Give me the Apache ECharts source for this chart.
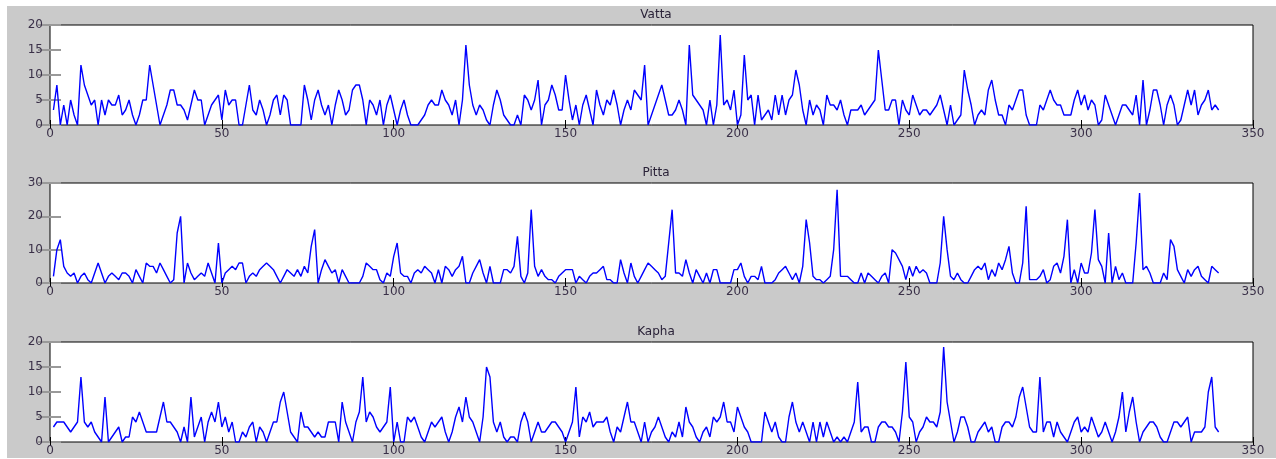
<!DOCTYPE html>
<html>
<head>
<meta charset="utf-8">
<script src="https://cdn.jsdelivr.net/npm/echarts@6/dist/echarts.min.js"></script>
<style>
  html, body { margin: 0; padding: 0; background: #fff; }
  #chart { width: 1276px; height: 459px; }
</style>
</head>
<body>
<div id="chart"></div>
<script>
// panel titles
var titles = ['Vatta', 'Pitta', 'Kapha'];

// y ranges
var yMax = [20, 30, 20];
var yStep = [5, 10, 5];

// samples 1..340
var vatta = [
	3, 8, 0, 4, 0, 5, 2, 0, 12, 8, 6, 4, 5, 0, 5, 2, 5, 4, 4, 6,
	2, 3, 5, 2, 0, 2, 5, 5, 12, 8, 4, 0, 2, 4, 7, 7, 4, 4, 3, 1,
	4, 7, 5, 5, 0, 2, 4, 5, 6, 1, 7, 4, 5, 5, 0, 0, 4, 8, 3, 2,
	5, 3, 0, 2, 5, 6, 2, 6, 5, 0, 0, 0, 0, 8, 5, 1, 5, 7, 4, 2,
	4, 0, 4, 7, 5, 2, 3, 7, 8, 8, 5, 0, 5, 4, 2, 5, 0, 4, 6, 3,
	0, 3, 5, 2, 0, 0, 0, 1, 2, 4, 5, 4, 4, 7, 5, 4, 2, 5, 0, 5,
	16, 8, 4, 2, 4, 3, 1, 0, 4, 7, 5, 2, 1, 0, 0, 2, 0, 6, 5, 3,
	5, 9, 0, 4, 5, 8, 6, 3, 3, 10, 5, 1, 4, 0, 4, 6, 3, 0, 7, 4,
	2, 5, 4, 7, 4, 0, 3, 5, 3, 7, 6, 5, 12, 0, 2, 4, 6, 8, 5, 2,
	2, 3, 5, 3, 0, 16, 6, 5, 4, 3, 0, 5, 0, 4, 18, 4, 5, 3, 7, 0,
	2, 14, 5, 6, 0, 6, 1, 2, 3, 1, 6, 2, 6, 2, 5, 6, 11, 8, 3, 0,
	5, 2, 4, 3, 0, 6, 4, 4, 3, 5, 2, 0, 3, 3, 3, 4, 2, 3, 4, 5,
	15, 9, 3, 3, 5, 5, 0, 5, 3, 2, 6, 4, 2, 3, 3, 2, 3, 4, 6, 3,
	0, 4, 0, 1, 2, 11, 7, 4, 0, 2, 3, 2, 7, 9, 5, 2, 2, 0, 4, 3,
	5, 7, 7, 2, 0, 0, 0, 4, 3, 5, 7, 5, 4, 4, 2, 2, 2, 5, 7, 4,
	6, 3, 5, 4, 0, 1, 6, 4, 2, 0, 2, 4, 4, 3, 2, 6, 0, 9, 0, 3,
	7, 7, 4, 0, 4, 6, 4, 0, 1, 4, 7, 4, 7, 2, 4, 5, 7, 3, 4, 3
];

var pitta = [
	2, 10, 13, 5, 3, 2, 3, 0, 2, 3, 1, 0, 3, 6, 3, 0, 2, 3, 2, 1,
	3, 3, 2, 0, 4, 2, 0, 6, 5, 5, 3, 6, 4, 2, 0, 1, 15, 20, 0, 6,
	3, 1, 2, 3, 2, 6, 3, 0, 12, 0, 3, 4, 5, 4, 6, 6, 0, 2, 3, 2,
	4, 5, 6, 5, 4, 2, 0, 2, 4, 3, 2, 4, 2, 5, 3, 11, 16, 0, 4, 7,
	5, 3, 4, 0, 4, 2, 0, 0, 0, 0, 2, 6, 5, 4, 4, 1, 0, 3, 2, 8,
	12, 3, 2, 2, 0, 3, 4, 3, 5, 4, 3, 0, 4, 0, 5, 4, 2, 4, 5, 8,
	0, 0, 3, 5, 7, 3, 0, 5, 0, 0, 0, 4, 4, 3, 5, 14, 2, 0, 3, 22,
	5, 2, 4, 2, 1, 1, 0, 2, 3, 4, 4, 4, 0, 2, 1, 0, 2, 3, 3, 4,
	5, 1, 1, 0, 0, 7, 3, 0, 6, 2, 0, 2, 4, 6, 5, 4, 3, 1, 2, 12,
	22, 3, 3, 2, 7, 3, 0, 4, 2, 0, 3, 0, 4, 4, 0, 0, 0, 0, 4, 4,
	6, 2, 0, 2, 2, 1, 5, 0, 0, 0, 1, 3, 4, 5, 3, 1, 3, 0, 5, 19,
	12, 2, 1, 1, 0, 1, 2, 10, 28, 2, 2, 2, 1, 0, 0, 3, 0, 3, 2, 1,
	0, 2, 3, 0, 10, 9, 7, 5, 1, 5, 2, 5, 3, 4, 3, 0, 0, 0, 6, 20,
	10, 2, 1, 3, 1, 0, 0, 2, 4, 5, 4, 6, 1, 4, 2, 6, 4, 7, 11, 3,
	0, 0, 6, 23, 1, 1, 1, 2, 4, 0, 1, 5, 6, 3, 8, 19, 0, 4, 0, 6,
	3, 3, 9, 22, 7, 5, 0, 15, 0, 5, 1, 3, 0, 0, 0, 12, 27, 4, 5, 3,
	0, 0, 0, 3, 1, 13, 11, 4, 2, 0, 4, 2, 4, 5, 2, 1, 0, 5, 4, 3
];

var kapha = [
	3, 4, 4, 4, 3, 2, 3, 4, 13, 4, 3, 4, 2, 1, 0, 9, 0, 1, 2, 3,
	0, 1, 1, 5, 4, 6, 4, 2, 2, 2, 2, 5, 8, 4, 4, 3, 2, 0, 3, 0,
	9, 1, 3, 5, 0, 4, 6, 4, 8, 3, 5, 2, 4, 0, 0, 2, 1, 3, 4, 0,
	3, 2, 0, 2, 4, 4, 8, 10, 6, 2, 1, 0, 6, 3, 3, 2, 1, 2, 1, 1,
	4, 4, 4, 0, 8, 4, 2, 0, 4, 6, 13, 4, 6, 5, 3, 2, 3, 4, 11, 0,
	4, 0, 0, 5, 4, 5, 3, 1, 0, 2, 4, 3, 4, 5, 2, 0, 2, 5, 7, 4,
	9, 5, 4, 2, 0, 5, 15, 13, 4, 2, 4, 1, 0, 1, 1, 0, 4, 6, 4, 0,
	2, 4, 2, 2, 3, 4, 4, 3, 2, 0, 2, 4, 11, 1, 5, 4, 6, 3, 4, 4,
	4, 5, 2, 0, 3, 2, 5, 8, 4, 4, 2, 0, 4, 0, 2, 3, 5, 3, 1, 0,
	2, 1, 4, 1, 7, 4, 3, 1, 0, 2, 3, 1, 5, 4, 5, 8, 4, 4, 2, 7,
	5, 3, 2, 0, 0, 0, 0, 6, 4, 2, 4, 1, 0, 0, 5, 8, 4, 2, 4, 2,
	0, 4, 0, 4, 1, 4, 2, 0, 1, 0, 1, 0, 2, 4, 12, 2, 3, 3, 0, 0,
	3, 4, 4, 3, 3, 2, 0, 6, 16, 5, 4, 0, 2, 3, 5, 4, 4, 3, 6, 19,
	8, 4, 0, 2, 5, 5, 3, 0, 0, 2, 3, 4, 2, 3, 0, 0, 3, 4, 4, 3,
	5, 9, 11, 7, 3, 2, 2, 13, 2, 4, 4, 1, 4, 2, 1, 0, 2, 4, 5, 2,
	3, 2, 5, 3, 1, 2, 4, 2, 0, 2, 5, 10, 2, 6, 9, 4, 0, 2, 3, 4,
	4, 3, 1, 0, 0, 2, 4, 4, 3, 4, 5, 0, 2, 2, 2, 3, 10, 13, 3, 2
];

var panels = [vatta, pitta, kapha];
var gridTops = [25, 183, 342];

var chart = echarts.init(document.getElementById('chart'));

var font = 'DejaVu Sans, Verdana, sans-serif';
var labelColor = '#3a3048';
var grids = [], xAxes = [], yAxes = [], series = [], titleOpts = [];

for (var i = 0; i < panels.length; i++) {
	grids.push({
		left: 50, right: 23, top: gridTops[i], height: 100,
		show: true, backgroundColor: '#fff', borderColor: '#000', borderWidth: 1
	});
	titleOpts.push({
		text: titles[i], left: 651, top: gridTops[i] - 21, textAlign: 'center',
		textStyle: { fontFamily: font, fontSize: 12, fontWeight: 'normal', color: '#2a2238' }
	});
	// bottom x axis with labels, top one only for ticks
	xAxes.push({
		gridIndex: i, type: 'value', min: 0, max: 350, interval: 50, position: 'bottom',
		axisLine: { show: false }, splitLine: { show: false },
		axisTick: { inside: true, length: 5, lineStyle: { color: '#000' } },
		axisLabel: { margin: 3, fontFamily: font, fontSize: 12, color: labelColor }
	});
	xAxes.push({
		gridIndex: i, type: 'value', min: 0, max: 350, interval: 50, position: 'top',
		axisLine: { show: false }, splitLine: { show: false }, axisLabel: { show: false },
		axisTick: { inside: true, length: 4, lineStyle: { color: '#000' } }
	});
	yAxes.push({
		gridIndex: i, type: 'value', min: 0, max: yMax[i], interval: yStep[i], position: 'left',
		axisLine: { show: false }, splitLine: { show: false },
		axisTick: { inside: true, length: 11, lineStyle: { color: '#999', width: 2 } },
		axisLabel: { margin: 7, fontFamily: font, fontSize: 12, color: labelColor }
	});
	yAxes.push({
		gridIndex: i, type: 'value', min: 0, max: yMax[i], interval: yStep[i], position: 'right',
		axisLine: { show: false }, splitLine: { show: false }, axisLabel: { show: false },
		axisTick: { inside: true, length: 12, lineStyle: { color: '#999', width: 2 } }
	});
	series.push({
		type: 'line', xAxisIndex: i * 2, yAxisIndex: i * 2,
		data: panels[i].map(function(v, k) { return [k + 1, v]; }),
		showSymbol: false, silent: true,
		lineStyle: { color: '#0000ff', width: 1.4 }
	});
}

chart.setOption({
	animation: false,
	backgroundColor: '#fff',
	graphic: [{
		type: 'rect', z: -10, silent: true,
		shape: { x: 7, y: 6, width: 1269, height: 452 },
		style: { fill: '#cacaca' }
	}],
	title: titleOpts,
	grid: grids,
	xAxis: xAxes,
	yAxis: yAxes,
	series: series
});
</script>
</body>
</html>
